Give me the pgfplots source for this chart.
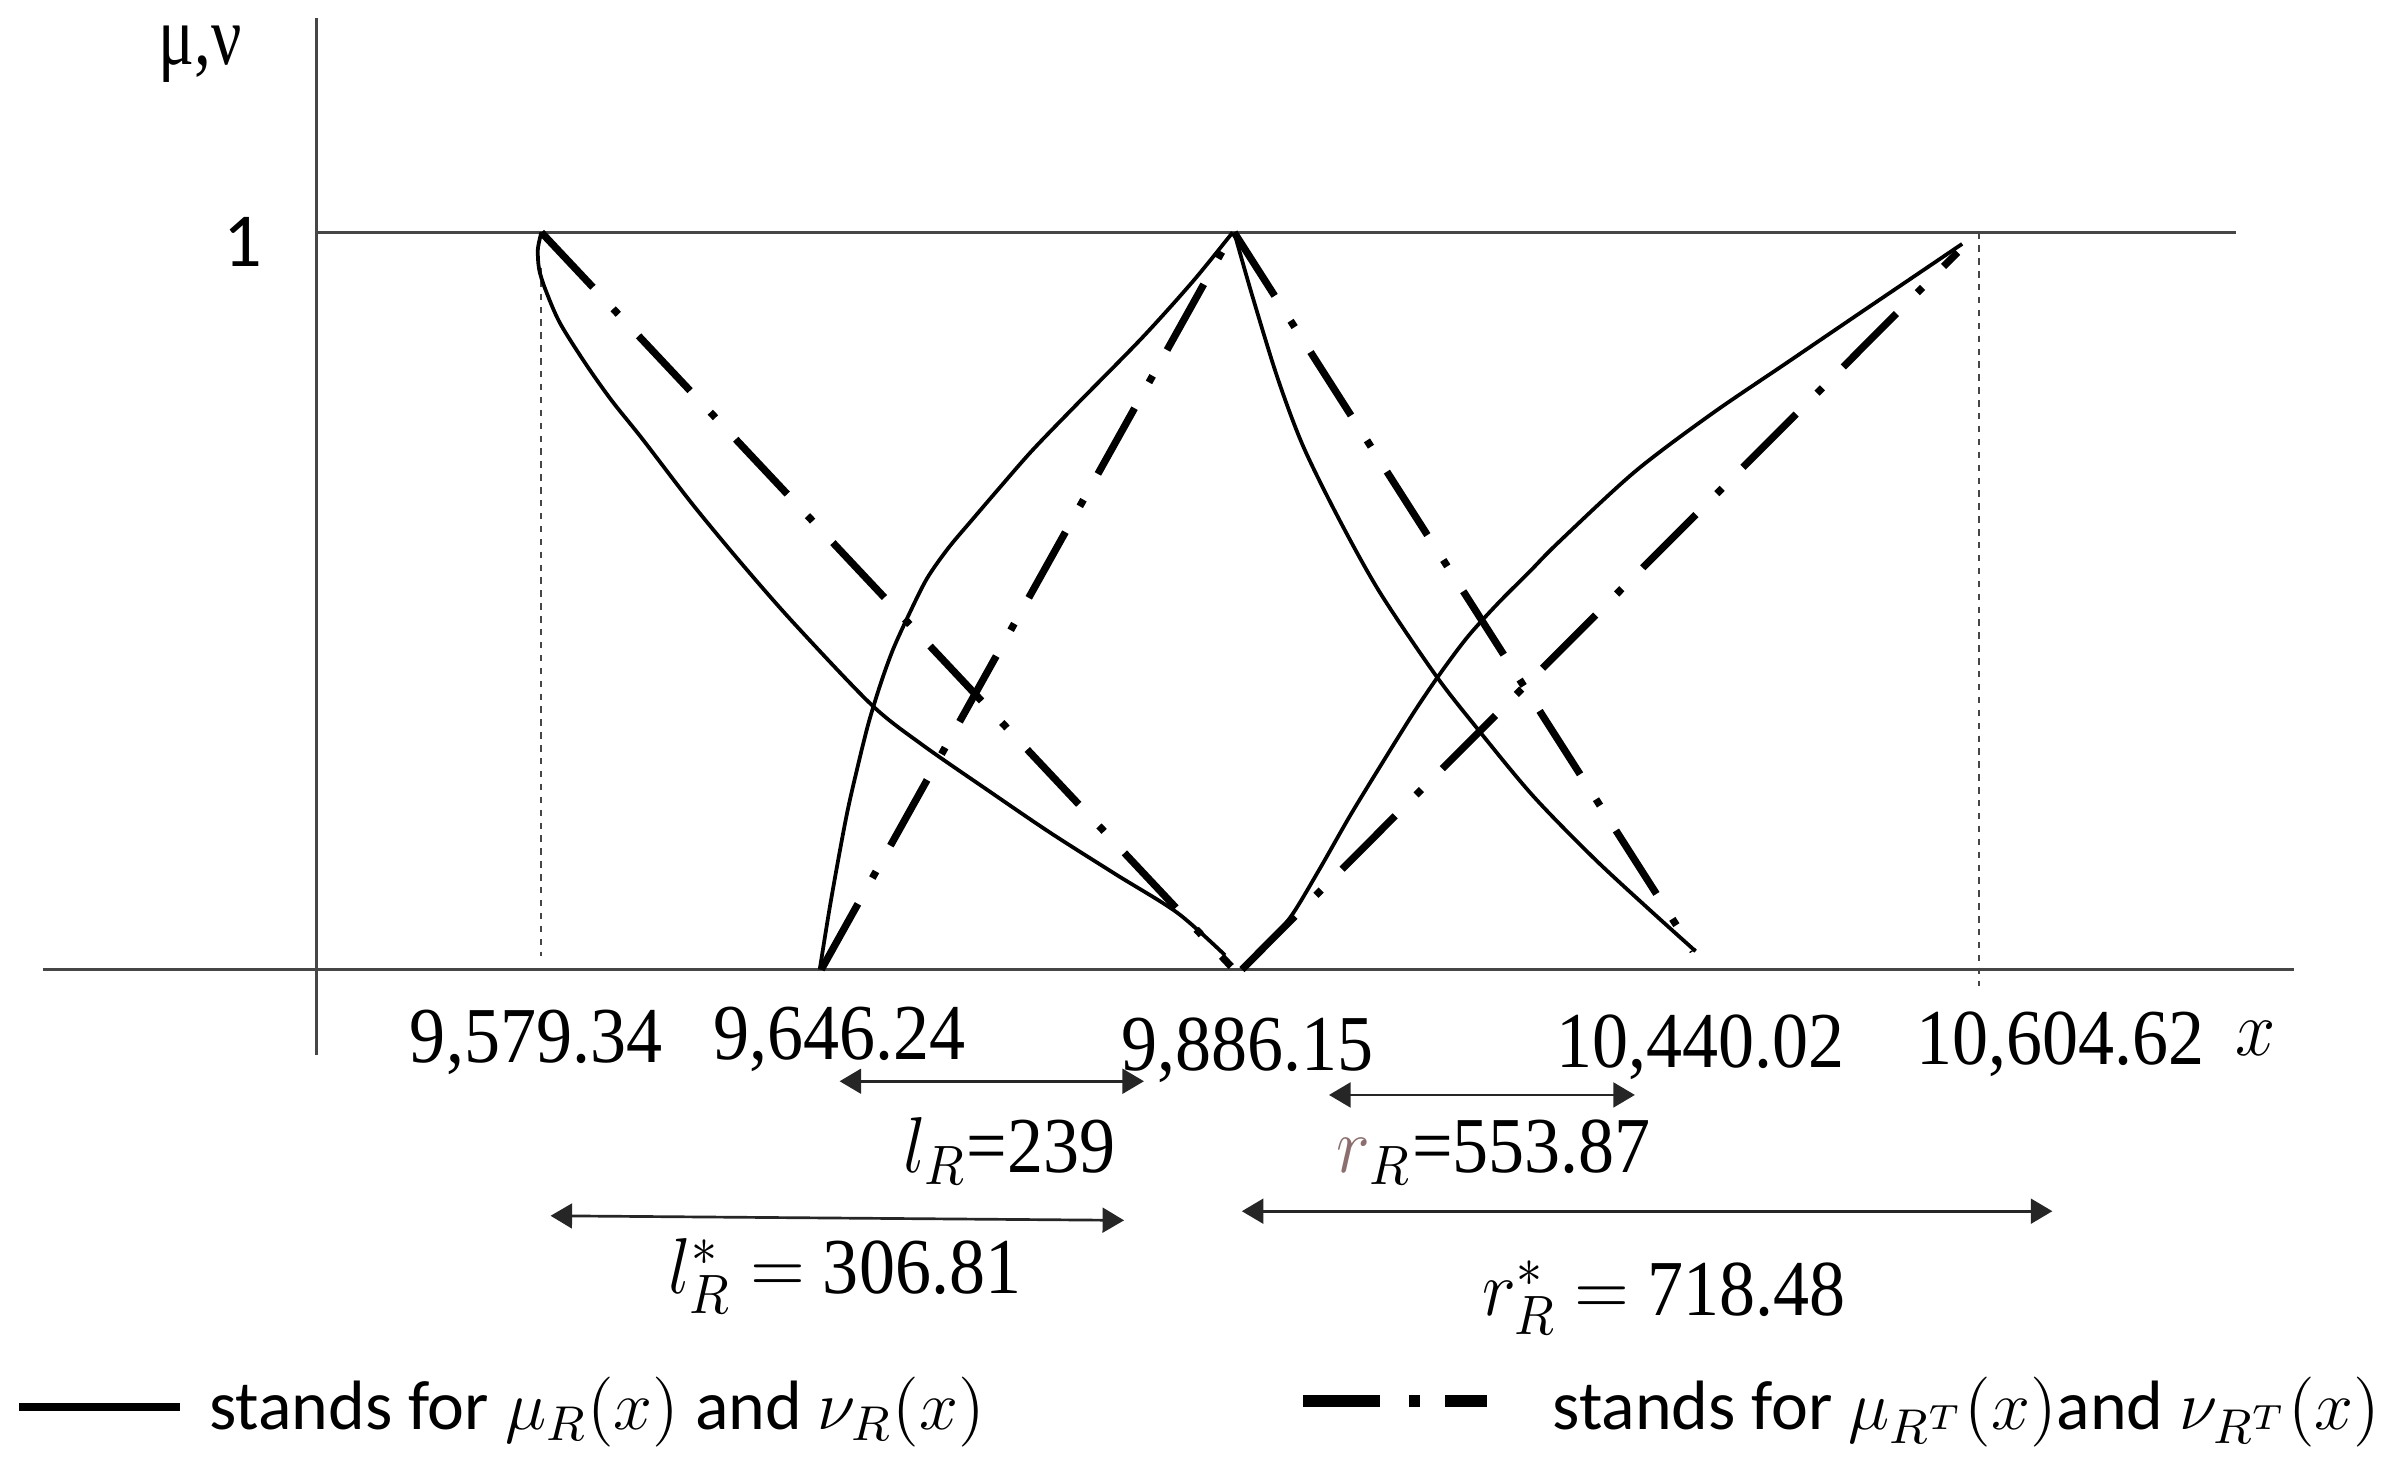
\RequirePackage{fix-cm}
\documentclass[border=0pt]{standalone}
\usepackage{fontspec}
\setmainfont{Liberation Serif}
\newfontfamily\carlito{Carlito}
\usepackage{pgfplots}
\pgfplotsset{compat=1.18}
\usetikzlibrary{arrows.meta}
\definecolor{axgray}{RGB}{70,70,70}
\definecolor{rcol}{RGB}{140,110,110}
\newcommand{\num}[1]{\scalebox{1}[1.1]{#1}}
\begin{document}
\begin{tikzpicture}[
  dd/.style={black, line width=1.35pt, dash pattern=on 14pt off 5.5pt on 1.4pt off 5.5pt},
  sol/.style={black, line width=0.7pt, smooth},
  arr/.style={black!85, line width=0.5pt, {Triangle[length=4pt,width=4.6pt]}-{Triangle[length=4pt,width=4.6pt]}},
  lab/.style={anchor=base, inner sep=0pt, font=\fontsize{13.4}{16}\selectfont},
]
\begin{axis}[
  scale only axis, width=156.8mm, height=96.3mm,
  xmin=0, xmax=1568, ymin=-0.68257, ymax=1.31535,
  axis lines=none, clip=false,
  every axis plot/.append style={no marks},
]
% frame lines
\addplot[axgray, line width=0.45pt] coordinates {(207,1.2905) (207,-0.1162)};
\addplot[axgray, line width=0.45pt] coordinates {(28,0) (1500,0)};
\addplot[axgray, line width=0.45pt] coordinates {(207,1) (1462,1)};
% dotted verticals
\addplot[axgray, line width=0.4pt, dash pattern=on 1.2pt off 1.2pt] coordinates {(354,0.952) (354,0.0187)};
\addplot[axgray, line width=0.4pt, dash pattern=on 1.2pt off 1.2pt] coordinates {(1294,1) (1294,-0.0228)};

% dash-dot straight lines (mu_RT, nu_RT)
\addplot[dd] coordinates {(354,1) (805,0.00415)};
\addplot[dd] coordinates {(537,0) (806,1)};
\addplot[dd] coordinates {(807,1) (1107,0.0249)};
\addplot[dd] coordinates {(812,0) (1280,0.973)};

% solid curves (mu_R, nu_R)
\addplot[sol] coordinates {(354,1.0) (351.7,0.97718) (352.5,0.95021) (356.5,0.92324) (366,0.87759) (383,0.82158) (400,0.77178) (420,0.71992) (453,0.63071) (487,0.54564) (520,0.46784) (570,0.35892) (603,0.30498) (647,0.24170) (687,0.18527) (730,0.12863) (770,0.07676) (801,0.01950)};
\addplot[sol] coordinates {(536,0) (543.3,0.09336) (553.3,0.20643) (561,0.27697) (568,0.33506) (576,0.38900) (584,0.43465) (594,0.48029) (606,0.53008) (620,0.57158) (636,0.61100) (654,0.65456) (675,0.70436) (703,0.76452) (746.7,0.85685) (780,0.93361) (806,1.0)};
\addplot[sol] coordinates {(807,1.0) (818.7,0.91494) (835.3,0.80290) (852,0.71037) (875.3,0.61203) (902,0.51245) (938.7,0.39938) (965.3,0.32863) (1002,0.23651) (1042,0.15145) (1078.7,0.08091) (1108.7,0.02490)};
\addplot[sol] coordinates {(814,0.00415) (830,0.03734) (845,0.07469) (863,0.13693) (883,0.20954) (905,0.28423) (925,0.35062) (942,0.40249) (960,0.45228) (980,0.49793) (1000,0.53942) (1018.7,0.57884) (1068.7,0.67490) (1118.7,0.75311) (1168.7,0.82365) (1218.7,0.89419) (1283,0.98444)};

% dimension arrows
\addplot[arr] coordinates {(549,-0.1515) (748,-0.1515)};
\addplot[arr] coordinates {(869,-0.1701) (1069,-0.1701)};
\addplot[arr] coordinates {(360,-0.3340) (735,-0.3402)};
\addplot[arr] coordinates {(812,-0.3278) (1342,-0.3278)};

% axis labels
\node[anchor=base, inner sep=0pt, font=\fontsize{12.5}{15}\selectfont] at (axis cs:131,1.2282) {\scalebox{1}[1.25]{μ,ν}};
\node[anchor=base, inner sep=0pt, font=\carlito\fontsize{14.2}{17}\selectfont] at (axis cs:159,0.9544) {1};

% x labels
\node[lab] at (axis cs:350.5,-0.1266) {\num{9,579.34}};
\node[lab] at (axis cs:549,-0.1224) {\num{9,646.24}};
\node[lab] at (axis cs:816,-0.1369) {\num{9,886.15}};
\node[lab] at (axis cs:1112,-0.1328) {\num{10,440.02}};
\node[lab] at (axis cs:1347,-0.1286) {\num{10,604.62}};
\node[lab] at (axis cs:1475,-0.1162) {\num{$x$}};

% dimension labels
\node[lab] at (axis cs:660,-0.2759) {\num{$l_R$=239}};
\node[lab] at (axis cs:976.5,-0.2759) {\num{${\color{rcol}r}_R$=553.87}};
\node[lab] at (axis cs:552.5,-0.4398) {\num{$l^{*}_{R}$ $=$ 306.81}};
\node[lab] at (axis cs:1088,-0.4689) {\num{$r^{*}_{R}$ $=$ 718.48}};

% legend samples
\addplot[black, line width=1.45pt] coordinates {(12.5,-0.5934) (117.5,-0.5934)};
\addplot[black, line width=2.2pt, dash pattern=on 14.4pt off 5.3pt on 2.1pt off 4.7pt on 7.8pt] coordinates {(852,-0.5851) (972,-0.5851)};
\node[anchor=base west, inner sep=0pt, font=\carlito\fontsize{13}{16}\selectfont] at (axis cs:136,-0.6245) {stands for $\mu_R(x)$ and $\nu_R(x)$};
\node[anchor=base west, inner sep=0pt, font=\carlito\fontsize{13}{16}\selectfont] at (axis cs:1014.5,-0.6245) {stands for $\mu_{R^T}(x)$and $\nu_{R^T}(x)$};
\end{axis}
\pgfresetboundingbox
\useasboundingbox (current axis.south west) rectangle (current axis.north east);
\end{tikzpicture}
\end{document}
